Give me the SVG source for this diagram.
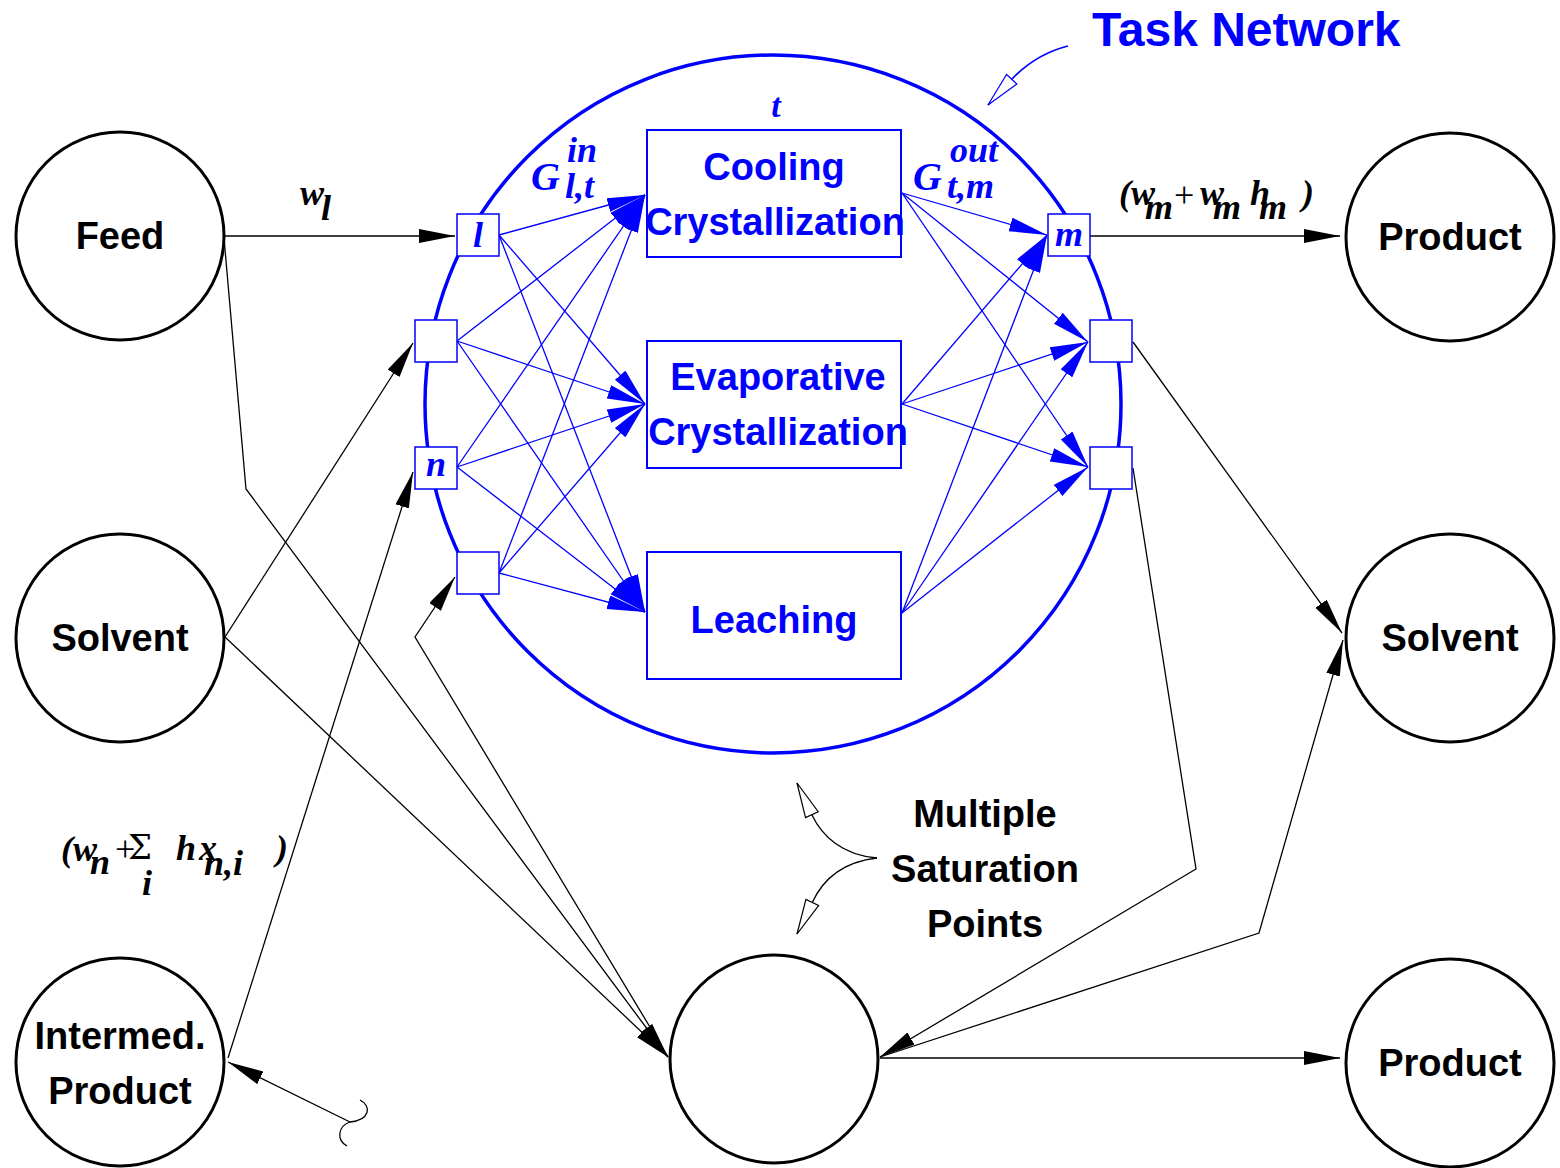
<svg xmlns="http://www.w3.org/2000/svg" width="1560" height="1168" viewBox="0 0 1560 1168">
  <style>
    .node { fill: #fff; stroke: #000; stroke-width: 3; }
    .lbl { font-family: "Liberation Sans", Arial, sans-serif; font-weight: bold; font-size: 38px; text-anchor: middle; fill: #000; }
    .blbl { font-family: "Liberation Sans", Arial, sans-serif; font-weight: bold; font-size: 38px; text-anchor: middle; fill: #0000ff; }
    .task { fill: #fff; stroke: #0000ff; stroke-width: 2; }
    .port { fill: #fff; stroke: #0000ff; stroke-width: 1.5; }
    .math { font-family: "Liberation Serif", "Times New Roman", serif; font-weight: bold; font-style: italic; font-size: 36px; }
    .op { font-family: "Liberation Serif", "Times New Roman", serif; font-weight: normal; font-style: normal; }
    .sigma { font-family: "DejaVu Serif", serif; font-weight: normal; font-style: normal; font-size: 34px; }
    .blk { fill: none; stroke: #000; stroke-width: 1.3; }
    .blu { fill: none; stroke: #0000ff; stroke-width: 1.3; }
    .ca { marker-end: url(#ahBlack); }
    .cb { marker-end: url(#ahBlue); }
  </style>
  <defs>
    <marker id="ahBlack" markerUnits="userSpaceOnUse" markerWidth="37" markerHeight="16" refX="36" refY="7" orient="auto">
      <path d="M0,0 L36,7 L0,14 Z" fill="#000"/>
    </marker>
    <marker id="ahBlue" markerUnits="userSpaceOnUse" markerWidth="39" markerHeight="16" refX="38" refY="7" orient="auto">
      <path d="M0,0 L38,7 L0,14 Z" fill="#0000ff"/>
    </marker>
    <marker id="openBlack" markerUnits="userSpaceOnUse" markerWidth="38" markerHeight="18" refX="36" refY="8" orient="auto">
      <path d="M1,1 L36,8 L1,15 Z" fill="#fff" stroke="#000" stroke-width="1.2"/>
    </marker>
    <marker id="openBlue" markerUnits="userSpaceOnUse" markerWidth="38" markerHeight="18" refX="36" refY="8" orient="auto">
      <path d="M1,1 L36,8 L1,15 Z" fill="#fff" stroke="#0000ff" stroke-width="1.2"/>
    </marker>
  </defs>

  <!-- task network boundary -->
  <ellipse cx="773" cy="404" rx="348" ry="349" fill="none" stroke="#0000ff" stroke-width="3.5"/>

  <!-- connectors -->
  <g id="connectors">
    <!-- black streams -->
    <line class="blk ca" x1="224" y1="236" x2="455" y2="236"/>
    <polyline class="blk ca" points="224,238 246,489 668,1057"/>
    <line class="blk ca" x1="225" y1="637" x2="413" y2="343"/>
    <line class="blk ca" x1="225" y1="637" x2="668" y2="1057"/>
    <line class="blk ca" x1="228" y1="1058" x2="413" y2="472"/>
    <polyline class="blk ca" points="668,1057 415,637 455,577"/>
    <line class="blk ca" x1="1090" y1="236" x2="1340" y2="236"/>
    <line class="blk ca" x1="1133" y1="342" x2="1342" y2="633"/>
    <polyline class="blk ca" points="1133,468 1196,869 880,1057"/>
    <polyline class="blk ca" points="880,1057 1259,933 1343,640"/>
    <line class="blk ca" x1="880" y1="1058" x2="1340" y2="1058"/>
    <line class="blk ca" x1="350" y1="1122" x2="228" y2="1062"/>
    <path class="blk" d="M360,1100 C372,1106 370,1120 350,1122 C338,1126 336,1140 347,1146"/>

    <!-- blue streams into tasks -->
    <line class="blu cb" x1="499" y1="235" x2="645" y2="195"/>
    <line class="blu cb" x1="499" y1="235" x2="645" y2="404"/>
    <line class="blu cb" x1="499" y1="235" x2="645" y2="612"/>
    <line class="blu cb" x1="457" y1="341" x2="645" y2="195"/>
    <line class="blu cb" x1="457" y1="341" x2="645" y2="404"/>
    <line class="blu cb" x1="457" y1="341" x2="645" y2="612"/>
    <line class="blu cb" x1="457" y1="467" x2="645" y2="195"/>
    <line class="blu cb" x1="457" y1="467" x2="645" y2="404"/>
    <line class="blu cb" x1="457" y1="467" x2="645" y2="612"/>
    <line class="blu cb" x1="499" y1="573" x2="645" y2="195"/>
    <line class="blu cb" x1="499" y1="573" x2="645" y2="404"/>
    <line class="blu cb" x1="499" y1="573" x2="645" y2="612"/>

    <!-- blue streams out of tasks -->
    <line class="blu cb" x1="902" y1="193" x2="1047" y2="235"/>
    <line class="blu cb" x1="902" y1="193" x2="1088" y2="342"/>
    <line class="blu cb" x1="902" y1="193" x2="1088" y2="467"/>
    <line class="blu cb" x1="902" y1="404" x2="1047" y2="235"/>
    <line class="blu cb" x1="902" y1="404" x2="1088" y2="342"/>
    <line class="blu cb" x1="902" y1="404" x2="1088" y2="467"/>
    <line class="blu cb" x1="902" y1="613" x2="1047" y2="235"/>
    <line class="blu cb" x1="902" y1="613" x2="1088" y2="342"/>
    <line class="blu cb" x1="902" y1="613" x2="1088" y2="467"/>

    <!-- callout pointers -->
    <path d="M1068,46 C1048,51 1028,62 1011,80 L988,105" fill="none" stroke="#0000ff" stroke-width="1.8" marker-end="url(#openBlue)"/>
    <path d="M877,858 C842,855 822,836 812,815 L797,783" fill="none" stroke="#000" stroke-width="1.3" marker-end="url(#openBlack)"/>
    <path d="M877,858 C842,862 822,881 812,903 L797,934" fill="none" stroke="#000" stroke-width="1.3" marker-end="url(#openBlack)"/>
  </g>

  <!-- state nodes -->
  <g id="feed"><circle class="node" cx="120" cy="236" r="104"/><text class="lbl" x="120" y="249">Feed</text></g>
  <g id="solvent-in"><circle class="node" cx="120" cy="638" r="104"/><text class="lbl" x="120" y="651">Solvent</text></g>
  <g id="intermed-product"><circle class="node" cx="120" cy="1062" r="104"/><text class="lbl" x="120" y="1049">Intermed.</text><text class="lbl" x="120" y="1104">Product</text></g>
  <g id="product-top"><circle class="node" cx="1450" cy="237" r="104"/><text class="lbl" x="1450" y="250">Product</text></g>
  <g id="solvent-out"><circle class="node" cx="1450" cy="638" r="104"/><text class="lbl" x="1450" y="651">Solvent</text></g>
  <g id="product-bottom"><circle class="node" cx="1450" cy="1063" r="104"/><text class="lbl" x="1450" y="1076">Product</text></g>
  <g id="saturation-point"><circle class="node" cx="774" cy="1059" r="104"/></g>

  <!-- tasks -->
  <g id="task-cooling"><rect class="task" x="647" y="130" width="254" height="127"/><text class="blbl" x="774" y="180">Cooling</text><text class="blbl" x="775" y="235">Crystallization</text></g>
  <g id="task-evaporative"><rect class="task" x="647" y="341" width="254" height="127"/><text class="blbl" x="778" y="390">Evaporative</text><text class="blbl" x="778" y="445">Crystallization</text></g>
  <g id="task-leaching"><rect class="task" x="647" y="552" width="254" height="127"/><text class="blbl" x="774" y="633">Leaching</text></g>

  <!-- ports on the network boundary -->
  <g id="port-l"><rect class="port" x="457" y="214" width="42" height="42"/><text class="math" x="478" y="247" text-anchor="middle" fill="#0000ff">l</text></g>
  <g id="port-in2"><rect class="port" x="415" y="320" width="42" height="42"/></g>
  <g id="port-n"><rect class="port" x="415" y="447" width="42" height="42"/><text class="math" x="436" y="476" text-anchor="middle" fill="#0000ff">n</text></g>
  <g id="port-in4"><rect class="port" x="457" y="552" width="42" height="42"/></g>
  <g id="port-m"><rect class="port" x="1048" y="214" width="42" height="42"/><text class="math" x="1069" y="246" text-anchor="middle" fill="#0000ff">m</text></g>
  <g id="port-out2"><rect class="port" x="1090" y="320" width="42" height="42"/></g>
  <g id="port-out3"><rect class="port" x="1090" y="447" width="42" height="42"/></g>

  <!-- annotations -->
  <text x="1092" y="46" font-family="'Liberation Sans', Arial, sans-serif" font-weight="bold" font-size="48" fill="#0000ff">Task Network</text>
  <g font-family="'Liberation Sans', Arial, sans-serif" font-weight="bold" font-size="38" text-anchor="middle" fill="#000">
    <text x="985" y="827">Multiple</text>
    <text x="985" y="882">Saturation</text>
    <text x="985" y="937">Points</text>
  </g>

  <g class="math" fill="#0000ff">
    <text x="776" y="117" text-anchor="middle" font-size="34">t</text>
    <text x="531" y="190" font-size="40">G</text>
    <text x="567" y="162">in</text>
    <text x="565" y="198">l,t</text>
    <text x="913" y="190" font-size="40">G</text>
    <text x="950" y="162">out</text>
    <text x="947" y="198">t,m</text>
  </g>
  <g class="math" fill="#000">
    <text x="300" y="205">w</text>
    <text x="321" y="220">l</text>
    <text x="1119" y="205">(w</text>
    <text x="1145" y="219">m</text>
    <text class="op" x="1174" y="207">+</text>
    <text x="1200" y="205">w</text>
    <text x="1213" y="219">m</text>
    <text x="1250" y="205">h</text>
    <text x="1259" y="219">m</text>
    <text x="1302" y="205">)</text>
    <text x="61" y="861">(w</text>
    <text x="90" y="874">n</text>
    <text class="op" x="115" y="861">+</text>
    <text class="sigma" x="128" y="859">Σ</text>
    <text x="147" y="895" text-anchor="middle">i</text>
    <text x="176" y="860">h</text>
    <text x="199" y="860">x</text>
    <text x="204" y="875">n,i</text>
    <text x="276" y="860">)</text>
  </g>
</svg>
